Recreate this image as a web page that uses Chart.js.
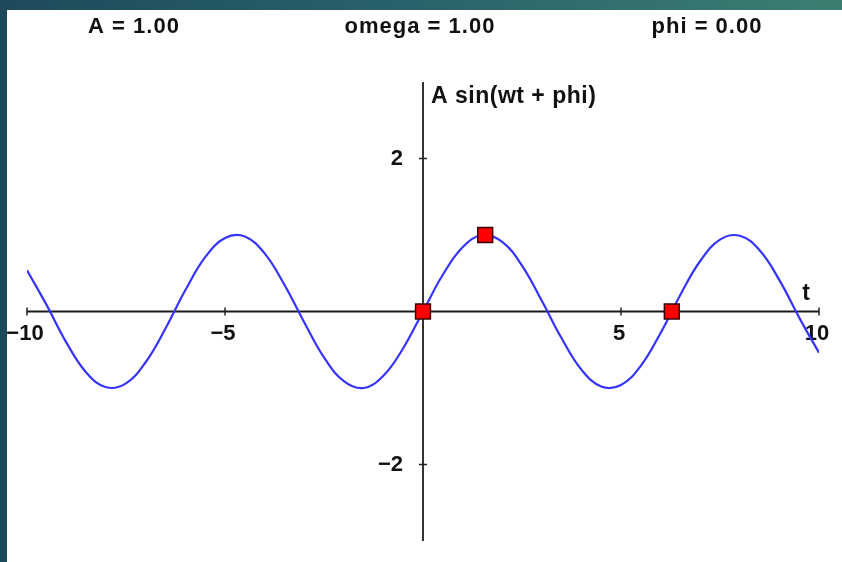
<!DOCTYPE html>
<html>
<head>
<meta charset="utf-8">
<title>A sin(wt + phi)</title>
<script src="https://cdn.jsdelivr.net/npm/chart.js@4.4.1/dist/chart.umd.min.js"></script>
<style>
  html, body { margin: 0; padding: 0; }
  body {
    width: 842px;
    height: 562px;
    overflow: hidden;
    background: linear-gradient(90deg, #1d4a5b 0%, #28606a 45%, #3d7e72 100%);
  }
  #wrap {
    position: absolute;
    left: 7px;
    top: 10px;
    width: 835px;
    height: 552px;
    background: #fff;
  }
</style>
</head>
<body>
<div id="wrap"><canvas id="myChart" width="835" height="552"></canvas></div>
<script>
/* global Chart */

// sampled curve, t from -10 to 10
let tValues = [-10, -9.5, -9, -8.5, -8, -7.5, -7, -6.5, -6, -5.5, -5, -4.5, -4, -3.5, -3, -2.5, -2, -1.5, -1, -0.5,
  0, 0.5, 1, 1.5, 2, 2.5, 3, 3.5, 4, 4.5, 5, 5.5, 6, 6.5, 7, 7.5, 8, 8.5, 9, 9.5, 10];
let curveValues = [0.54, 0.08, -0.41, -0.8, -0.99, -0.94, -0.66, -0.22, 0.28, 0.71, 0.96, 0.98, 0.76, 0.35, -0.14, -0.6, -0.91, -1.0, -0.84, -0.48,
  0, 0.48, 0.84, 1.0, 0.91, 0.6, 0.14, -0.35, -0.76, -0.98, -0.96, -0.71, -0.28, 0.22, 0.66, 0.94, 0.99, 0.8, 0.41, -0.08, -0.54];

// the three red handles
let handleT = [0, 1.571, 6.283];
let handleValues = [0, 1, 0];

let xTicks = [-10, -5, 5, 10];
let yTicks = [2, -2];
let paramLabels = ['A = 1.00', 'omega = 1.00', 'phi = 0.00'];

let curve = tValues.map((t, i) => ({ x: t, y: curveValues[i] }));
let handles = handleT.map((t, i) => ({ x: t, y: handleValues[i] }));

function fmt(v) {
  return String(v).replace('-', '\u2212');
}

// axes crossing at the origin, drawn under the curve
const centerAxes = {
  id: 'centerAxes',
  beforeDatasetsDraw(chart) {
    const ctx = chart.ctx;
    const x = chart.scales.x;
    const y = chart.scales.y;
    const x0 = x.getPixelForValue(0);
    const y0 = y.getPixelForValue(0);

    ctx.save();
    ctx.lineWidth = 2;
    ctx.strokeStyle = '#1a1a1a';
    ctx.beginPath();
    ctx.moveTo(x.left, y0);
    ctx.lineTo(x.right, y0);
    ctx.stroke();

    ctx.strokeStyle = '#333';
    ctx.beginPath();
    ctx.moveTo(x0, y.top);
    ctx.lineTo(x0, y.bottom);
    ctx.stroke();

    ctx.lineWidth = 1.5;
    ctx.strokeStyle = '#222';
    ctx.fillStyle = '#111';
    ctx.font = 'bold 22px "Liberation Sans", Arial, sans-serif';

    ctx.textAlign = 'center';
    ctx.textBaseline = 'middle';
    xTicks.forEach(v => {
      const px = x.getPixelForValue(v);
      ctx.beginPath();
      ctx.moveTo(px, y0 - 4);
      ctx.lineTo(px, y0 + 4);
      ctx.stroke();
      ctx.fillText(fmt(v), px - 2, y0 + 22);
    });

    ctx.textAlign = 'right';
    yTicks.forEach(v => {
      const py = y.getPixelForValue(v);
      ctx.beginPath();
      ctx.moveTo(x0 - 4, py);
      ctx.lineTo(x0 + 4, py);
      ctx.stroke();
      ctx.fillText(fmt(v), x0 - 20, py);
    });

    // axis titles
    ctx.font = 'bold 23px "Liberation Sans", Arial, sans-serif';
    ctx.textBaseline = 'alphabetic';
    ctx.textAlign = 'center';
    ctx.fillText('t', x.right - 13, y0 - 12);
    ctx.textAlign = 'left';
    ctx.letterSpacing = '0.5px';
    ctx.fillText('A sin(wt + phi)', x0 + 8, y.top + 21);
    ctx.restore();
  },
  afterDraw(chart) {
    const ctx = chart.ctx;
    const centers = [127, 413, 700];
    ctx.save();
    ctx.fillStyle = '#111';
    ctx.font = 'bold 22px "Liberation Sans", Arial, sans-serif';
    ctx.letterSpacing = '1px';
    ctx.textAlign = 'center';
    ctx.textBaseline = 'alphabetic';
    paramLabels.forEach((s, i) => ctx.fillText(s, centers[i], 23));
    ctx.restore();
  }
};

var ctx = document.getElementById('myChart').getContext('2d');
var myChart = new Chart(ctx, {
  type: 'line',
  data: {
    datasets: [{
      type: 'scatter',
      data: handles,
      order: 0,
      pointStyle: 'rect',
      pointRadius: 10.5,
      pointHoverRadius: 10.5,
      backgroundColor: '#ff0000',
      borderColor: '#3a0000',
      borderWidth: 1.5
    }, {
      data: curve,
      order: 1,
      borderColor: '#3535ff',
      borderWidth: 2.2,
      pointRadius: 0,
      tension: 0.4,
      fill: false
    }]
  },
  options: {
    responsive: false,
    animation: false,
    events: [],
    layout: {
      padding: { left: 20, right: 23, top: 72, bottom: 21 }
    },
    scales: {
      x: { type: 'linear', min: -10, max: 10, display: false },
      y: { min: -3, max: 3, display: false }
    },
    plugins: {
      legend: { display: false },
      tooltip: { enabled: false }
    }
  },
  plugins: [centerAxes]
});
</script>
</body>
</html>
